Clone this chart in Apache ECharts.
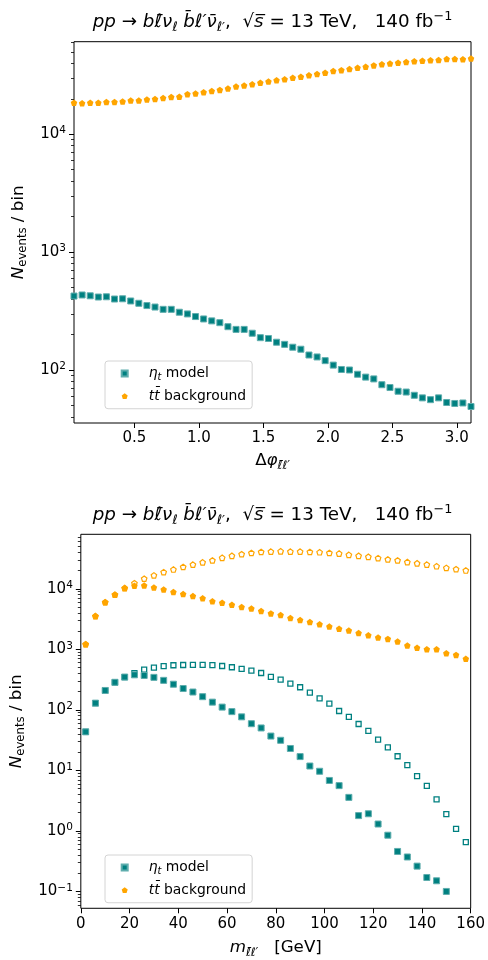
<!DOCTYPE html>
<html>
<head>
<meta charset="utf-8">
<script src="https://cdn.jsdelivr.net/npm/echarts@6/dist/echarts.min.js"></script>
<style>
  html, body { margin: 0; padding: 0; background: #fff; }
  #chart { width: 488px; height: 960px; }
</style>
</head>
<body>
<div id="chart"></div>
<script>
// top panel: 50 bins of delta-phi over [0, pi], bin centres
const phiBins = [
  0.0314, 0.0942, 0.1571, 0.2199, 0.2827, 0.3456, 0.4084, 0.4712, 0.5341, 0.5969,
  0.6597, 0.7226, 0.7854, 0.8482, 0.9111, 0.9739, 1.0367, 1.0996, 1.1624, 1.2252,
  1.2881, 1.3509, 1.4137, 1.4765, 1.5394, 1.6022, 1.6650, 1.7279, 1.7907, 1.8535,
  1.9164, 1.9792, 2.0420, 2.1049, 2.1677, 2.2305, 2.2934, 2.3562, 2.4190, 2.4819,
  2.5447, 2.6075, 2.6704, 2.7332, 2.7960, 2.8588, 2.9217, 2.9845, 3.0473, 3.1102
];
const phiEta = [
  424, 433, 426, 416, 418, 400, 402, 385, 368, 352,
  342, 327, 327, 309, 299, 284, 271, 261, 252, 233,
  221, 221, 205, 188, 185, 172, 165, 156, 150, 134,
  129, 120, 110, 101, 100, 92, 87, 84, 75, 71,
  66, 65, 61, 58, 56, 58, 53, 52, 52.5, 49
];
const phiTtbar = [
  18500, 18300, 18500, 18500, 18800, 18800, 19000, 19300, 19300, 19700,
  19900, 20300, 20700, 20800, 21900, 22200, 22700, 23300, 23800, 24500,
  25400, 25900, 26600, 27300, 28000, 28700, 29300, 30200, 30800, 31600,
  32400, 33300, 34400, 35000, 35800, 36700, 37400, 38400, 39300, 39800,
  40500, 41000, 41600, 42000, 42400, 42700, 43500, 43500, 43300, 43900
];

// bottom panel: 40 bins of 4 GeV, bin centres
const massBins = [
  2, 6, 10, 14, 18, 22, 26, 30, 34, 38,
  42, 46, 50, 54, 58, 62, 66, 70, 74, 78,
  82, 86, 90, 94, 98, 102, 106, 110, 114, 118,
  122, 126, 130, 134, 138, 142, 146, 150, 154, 158
];
const massEta = [
  43.3, 129, 209, 285, 348, 379, 370, 344, 307, 265,
  225, 197, 165, 134, 111, 93.5, 76.6, 59, 50.2, 36.9,
  31.4, 23, 16.9, 11.8, 9.67, 6.82, 5.6, 3.58, 1.79, 1.92,
  1.30, 0.849, 0.458, 0.371, 0.262, 0.170, 0.150, 0.100, null, null
];
const massEtaOpen = [
  43.3, 129, 209, 285, 348, 403, 460, 499, 529, 545,
  550, 552, 553, 548, 530, 505, 474, 446, 406, 350,
  315, 271, 236, 192, 155, 127, 95.7, 76.6, 58.4, 45,
  32.2, 23.9, 17.1, 12.2, 8.02, 5.53, 3.33, 1.90, 1.08, 0.655
];
const massTtbar = [
  1213, 3534, 6010, 8000, 10260, 11180, 11310, 10510, 9750, 8830,
  8200, 7610, 6980, 6240, 5860, 5440, 5000, 4700, 4310, 3920,
  3675, 3285, 3050, 2835, 2600, 2385, 2185, 2053, 1860, 1703,
  1563, 1487, 1346, 1160, 1064, 1000, 1000, 861, 809, 698
];
const massTtbarOpen = [
  1213, 3534, 6010, 8000, 10260, 12360, 14690, 16640, 18830, 20800,
  22960, 25060, 27310, 29400, 32500, 35000, 37220, 39110, 40620, 41110,
  41600, 41110, 41110, 40620, 40100, 39110, 38190, 36330, 35000, 33730,
  32060, 30530, 29400, 27600, 26300, 25060, 23550, 22130, 21050, 20050
];

const phiTicks = [0.5, 1.0, 1.5, 2.0, 2.5, 3.0];
const phiDecades = [2, 3, 4];
const massDecades = [-1, 0, 1, 2, 3, 4];

const TEAL = "#008080";
const ORANGE = "#ffa500";
const FONT = "DejaVu Sans";
const PENTAGON = "path://M0,-1L0.951,-0.309L0.588,0.809L-0.588,0.809L-0.951,-0.309Z";

const TITLE = "{i|pp} \u2192 {i|b\u2113\u0304\u03bd}{isub|\u2113} {i|b\u0304\u2113\u2032\u03bd\u0304}{isub|\u2113\u2032},  \u221a{i|s\u0305} = 13 TeV,   140 fb{sup|\u22121}";
const Y_NAME = "{i|N}{sub|events} / bin";
const LEGEND_TEXT = {
  eta: "{sp|}{i|\u03b7}{isub|t} model",
  ttbar: "{sp|}{i|tt\u0304} background"
};

const chart = echarts.init(document.getElementById("chart"));

function pairs(xs, ys) {
  return xs.map((x, i) => [x, ys[i]]).filter((p) => p[1] !== null);
}

// log10 positions of the 2..9 x 10^k minor ticks inside [lo, hi]
function minorTicks(lo, hi) {
  const out = [];
  for (let e = Math.floor(lo) - 1; e <= Math.ceil(hi); e++) {
    for (let k = 2; k <= 9; k++) {
      const v = e + Math.log10(k);
      if (v > lo && v < hi) out.push(v);
    }
  }
  return out;
}

function textRich(size) {
  const small = size * 0.7;
  return {
    i: { fontStyle: "italic", fontFamily: FONT, fontSize: size, lineHeight: size * 1.3, color: "#000" },
    isub: { fontStyle: "italic", fontFamily: FONT, fontSize: small, lineHeight: small * 0.9, verticalAlign: "bottom", color: "#000" },
    sub: { fontFamily: FONT, fontSize: small, lineHeight: small * 0.9, verticalAlign: "bottom", color: "#000" },
    sup: { fontFamily: FONT, fontSize: small, lineHeight: small * 0.9, verticalAlign: "top", color: "#000" },
    sp: { width: 16 }
  };
}

function powerLabel(v) {
  const n = Math.round(v);
  return "10{sup|" + (n < 0 ? "\u2212" + (-n) : n) + "}";
}

// a hidden log axis carries the data; two value axes in log10 units draw major and minor ticks
function buildPanel(idx, yMin, yMax, decades) {
  const lo = Math.log10(yMin);
  const hi = Math.log10(yMax);
  return [
    { type: "log", gridIndex: idx, min: yMin, max: yMax, show: false },
    {
      type: "value", gridIndex: idx, min: lo, max: hi, position: "left",
      axisLine: { show: false, onZero: false },
      splitLine: { show: false },
      axisTick: { show: true, length: 5, customValues: decades, lineStyle: { color: "#000", width: 1 } },
      axisLabel: {
        customValues: decades, formatter: powerLabel, margin: 8,
        fontFamily: FONT, fontSize: 15, color: "#000", lineHeight: 18,
        rich: { sup: { fontFamily: FONT, fontSize: 10.5, lineHeight: 9, verticalAlign: "top", color: "#000" } }
      },
      name: Y_NAME, nameLocation: "middle", nameRotate: 90, nameGap: 31,
      nameTextStyle: { fontFamily: FONT, fontSize: 16.7, color: "#000", rich: textRich(16.7) }
    },
    {
      type: "value", gridIndex: idx, min: lo, max: hi, position: "left",
      axisLine: { show: false, onZero: false },
      splitLine: { show: false },
      axisLabel: { show: false },
      axisTick: { show: true, length: 3, customValues: minorTicks(lo, hi), lineStyle: { color: "#000", width: 0.8 } }
    }
  ];
}

function legendFor(top) {
  return {
    orient: "vertical", left: 105, top: top,
    itemWidth: 6, itemHeight: 6, itemGap: 4.6,
    padding: [3.5, 6, 3.5, 15.7],
    backgroundColor: "#fff", borderColor: "#d4d4d4", borderWidth: 1, borderRadius: 3,
    selectedMode: false,
    data: [{ name: "eta", icon: "rect" }, { name: "ttbar", icon: PENTAGON }],
    formatter: (n) => LEGEND_TEXT[n],
    textStyle: { fontFamily: FONT, fontSize: 13.9, color: "#000", lineHeight: 18, rich: textRich(13.9) }
  };
}

const filledEta = { symbol: "rect", symbolSize: 6, itemStyle: { color: TEAL, opacity: 1, borderColor: "#5fadad", borderWidth: 1 } };
const filledTt = { symbol: PENTAGON, symbolSize: 6.5, itemStyle: { color: ORANGE, opacity: 1 } };
const openEta = { symbol: "rect", symbolSize: 5, itemStyle: { color: "#fff", opacity: 1, borderColor: TEAL, borderWidth: 1.3 } };
const openTt = { symbol: PENTAGON, symbolSize: 5.5, itemStyle: { color: "#fff", opacity: 1, borderColor: ORANGE, borderWidth: 1.2 } };

function scatter(name, xi, yi, data, look, z) {
  return Object.assign({ type: "scatter", name: name, xAxisIndex: xi, yAxisIndex: yi, data: data, z: z, silent: true }, look);
}

function titleText(y) {
  return {
    type: "text", x: 272.5, y: y,
    style: { text: TITLE, rich: textRich(18.3), fontFamily: FONT, fontSize: 18.3, fill: "#000", align: "center", verticalAlign: "middle" }
  };
}

const option = {
  animation: false,
  backgroundColor: "#fff",
  grid: [
    { left: 74, right: 17, top: 41.7, height: 381.3, show: true, borderColor: "#000", borderWidth: 1 },
    { left: 74, right: 17, top: 534.3, height: 382.4, show: true, borderColor: "#000", borderWidth: 1 }
  ],
  xAxis: [
    {
      type: "value", gridIndex: 0, min: phiBins[0], max: phiBins[phiBins.length - 1],
      axisLine: { show: false, onZero: false }, splitLine: { show: false },
      axisTick: { length: 5, customValues: phiTicks, lineStyle: { color: "#000" } },
      axisLabel: { customValues: phiTicks, formatter: (v) => v.toFixed(1), margin: 8, fontFamily: FONT, fontSize: 15, color: "#000" },
      name: "\u0394{i|\u03c6}{isub|\u2113\u0304\u2113\u2032}", nameLocation: "middle", nameGap: 27,
      nameTextStyle: { fontFamily: FONT, fontSize: 16.7, color: "#000", rich: textRich(16.7) }
    },
    {
      type: "value", gridIndex: 1, min: 0, max: 160, interval: 20,
      axisLine: { show: false, onZero: false }, splitLine: { show: false },
      axisTick: { length: 5, lineStyle: { color: "#000" } },
      axisLabel: { margin: 8, fontFamily: FONT, fontSize: 15, color: "#000", showMinLabel: true, showMaxLabel: true },
      name: "{i|m}{isub|\u2113\u0304\u2113\u2032}   [GeV]", nameLocation: "middle", nameGap: 29,
      nameTextStyle: { fontFamily: FONT, fontSize: 16.7, color: "#000", rich: textRich(16.7) }
    }
  ],
  yAxis: buildPanel(0, 35.5, 61000, phiDecades).concat(buildPanel(1, 0.0527, 79400, massDecades)),
  legend: [legendFor(361), legendFor(855)],
  graphic: [titleText(22), titleText(515)],
  series: [
    scatter("ttbar", 0, 0, pairs(phiBins, phiTtbar), filledTt, 3),
    scatter("eta", 0, 0, pairs(phiBins, phiEta), filledEta, 3),
    scatter("ttbar open", 1, 3, pairs(massBins, massTtbarOpen), openTt, 2),
    scatter("eta open", 1, 3, pairs(massBins, massEtaOpen), openEta, 2),
    scatter("ttbar", 1, 3, pairs(massBins, massTtbar), filledTt, 3),
    scatter("eta", 1, 3, pairs(massBins, massEta), filledEta, 3)
  ]
};

chart.setOption(option);
</script>
</body>
</html>
